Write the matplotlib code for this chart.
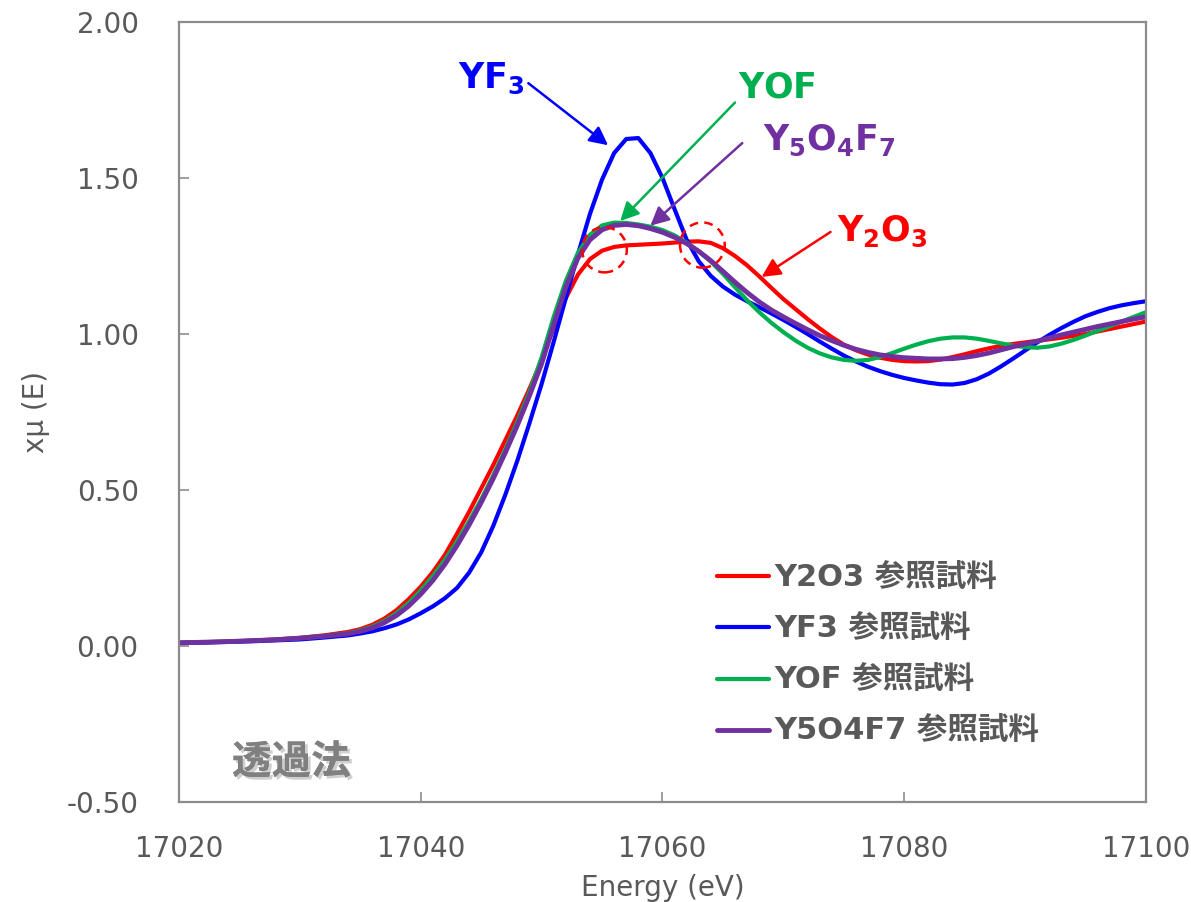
import numpy as np
import matplotlib
matplotlib.use("Agg")
import matplotlib.pyplot as plt
from matplotlib.patches import Ellipse
import matplotlib.patheffects as pe

# Energy grid (eV): coarse on the pre-edge baseline, 1 eV steps from 17034 on
energy = np.concatenate([np.arange(17020, 17034, 2), np.arange(17034, 17101, 1)])

y2o3 = [0.010, 0.012, 0.014, 0.017, 0.021, 0.026, 0.034,
        0.045, 0.054, 0.068, 0.088, 0.115, 0.150, 0.190, 0.237, 0.292, 0.360,
        0.430, 0.505, 0.580, 0.660, 0.740, 0.825, 0.915, 1.020, 1.115, 1.190,
        1.240, 1.267, 1.279, 1.284, 1.286, 1.288, 1.290, 1.293, 1.296, 1.297,
        1.292, 1.275, 1.250, 1.220, 1.185, 1.148, 1.112, 1.080, 1.048, 1.018,
        0.990, 0.966, 0.948, 0.934, 0.924, 0.917, 0.913, 0.912, 0.913, 0.918,
        0.926, 0.935, 0.945, 0.954, 0.962, 0.968, 0.973, 0.978, 0.983, 0.988,
        0.994, 1.000, 1.008, 1.016, 1.024, 1.032, 1.040]

yf3 = [0.010, 0.011, 0.013, 0.015, 0.018, 0.021, 0.027,
       0.034, 0.040, 0.047, 0.057, 0.069, 0.085, 0.105, 0.127, 0.153, 0.186,
       0.235, 0.300, 0.385, 0.485, 0.595, 0.715, 0.840, 0.975, 1.115, 1.255,
       1.385, 1.495, 1.580, 1.625, 1.628, 1.580, 1.500, 1.400, 1.302, 1.233,
       1.186, 1.152, 1.126, 1.105, 1.086, 1.066, 1.045, 1.023, 1.000, 0.976,
       0.953, 0.931, 0.912, 0.895, 0.881, 0.869, 0.859, 0.851, 0.844, 0.839,
       0.838, 0.843, 0.855, 0.873, 0.896, 0.921, 0.947, 0.973, 0.997, 1.019,
       1.039, 1.057, 1.071, 1.083, 1.092, 1.099, 1.105]

yof = [0.010, 0.012, 0.014, 0.017, 0.020, 0.025, 0.032,
       0.041, 0.050, 0.062, 0.080, 0.105, 0.138, 0.178, 0.224, 0.276, 0.335,
       0.400, 0.470, 0.547, 0.630, 0.720, 0.815, 0.925, 1.055, 1.170, 1.260,
       1.318, 1.348, 1.357, 1.356, 1.351, 1.344, 1.333, 1.316, 1.293, 1.265,
       1.232, 1.193, 1.150, 1.108, 1.070, 1.036, 1.006, 0.979, 0.956, 0.938,
       0.925, 0.917, 0.914, 0.917, 0.926, 0.939, 0.953, 0.966, 0.977, 0.985,
       0.989, 0.989, 0.985, 0.978, 0.970, 0.963, 0.958, 0.956, 0.960, 0.969,
       0.981, 0.995, 1.010, 1.025, 1.040, 1.055, 1.070]

y5o4f7 = [0.010, 0.012, 0.014, 0.017, 0.020, 0.025, 0.031,
          0.039, 0.047, 0.058, 0.075, 0.098, 0.128, 0.166, 0.210, 0.262, 0.322,
          0.388, 0.460, 0.537, 0.620, 0.708, 0.803, 0.905, 1.030, 1.150, 1.243,
          1.302, 1.334, 1.348, 1.351, 1.347, 1.338, 1.326, 1.310, 1.290, 1.265,
          1.235, 1.201, 1.166, 1.133, 1.103, 1.077, 1.055, 1.034, 1.014, 0.995,
          0.979, 0.964, 0.951, 0.941, 0.933, 0.928, 0.924, 0.922, 0.920, 0.920,
          0.921, 0.925, 0.931, 0.939, 0.949, 0.959, 0.968, 0.977, 0.987, 0.997,
          1.006, 1.015, 1.024, 1.032, 1.040, 1.048, 1.055]

series_names = ["Y2O3 参照試料", "YF3 参照試料", "YOF 参照試料", "Y5O4F7 参照試料"]
series_values = [y2o3, yf3, yof, y5o4f7]
series_colors = ["#FF0000", "#0000FF", "#00B050", "#7030A0"]
series_widths = [3.0, 3.0, 3.0, 3.5]

x_ticks = [17020, 17040, 17060, 17080, 17100]
y_ticks = [-0.50, 0.00, 0.50, 1.00, 1.50, 2.00]

# Formula labels pointing at each spectrum: (text, text position, arrow tail, arrow tip, colour)
callouts = [
    (r"$\mathbf{YF_3}$", (17045.8, 1.82), (17048.9, 1.804), (17055.5, 1.605), "#0000FF"),
    (r"$\mathbf{YOF}$", (17069.5, 1.79), (17066.0, 1.742), (17056.5, 1.362), "#00B050"),
    (r"$\mathbf{Y_5O_4F_7}$", (17073.8, 1.62), (17066.6, 1.612), (17059.0, 1.347), "#7030A0"),
    (r"$\mathbf{Y_2O_3}$", (17078.2, 1.33), (17073.9, 1.327), (17068.2, 1.183), "#FF0000"),
]

# Regions of interest on the Y2O3 spectrum
roi_centers = [(17055.2, 1.27), (17063.3, 1.285)]

TEXT = "#595959"
FRAME = "#8C8C8C"
JP = ["DejaVu Sans", "Noto Sans CJK JP"]

fig = plt.figure(figsize=(11.91, 9.02), dpi=100)
ax = fig.add_axes([0.1503, 0.1109, 0.8119, 0.8647])

for vals, name, col, lw in zip(series_values, series_names, series_colors, series_widths):
    ax.plot(energy, vals, color=col, lw=lw, label=name,
            solid_capstyle="round", solid_joinstyle="round")

ax.set_xlim(17020, 17100)
ax.set_ylim(-0.5, 2.0)
ax.set_xticks(x_ticks)
ax.set_xticklabels([str(t) for t in x_ticks])
ax.set_yticks(y_ticks)
ax.set_yticklabels([f"{t:.2f}" for t in y_ticks])

ax.tick_params(axis="both", direction="in", length=7, width=1.2, color=FRAME,
               labelsize=20, labelcolor=TEXT)
ax.tick_params(axis="y", pad=29)
ax.tick_params(axis="x", pad=24)
for sp in ax.spines.values():
    sp.set_color(FRAME)
    sp.set_linewidth(1.6)

ax.set_xlabel("Energy (eV)", fontsize=20, color=TEXT, labelpad=8)
ax.set_ylabel("xμ (E)", fontsize=20, color=TEXT, labelpad=12)

for (c, e) in roi_centers:
    ax.add_patch(Ellipse((c, e), width=3.7, height=0.145, fill=False,
                         edgecolor="#FF0000", lw=1.8, linestyle=(0, (3.5, 2.5)), zorder=5))

for label, tpos, start, tip, col in callouts:
    ax.text(tpos[0], tpos[1], label, color=col, fontsize=25, ha="center", va="center")
    ax.annotate("", xy=tip, xytext=start,
                arrowprops=dict(arrowstyle="-|>", color=col, lw=1.8,
                                mutation_scale=28, shrinkA=0, shrinkB=0))

ax.text(17029.3, -0.375, "透過法", fontsize=28.5, fontweight="bold", color="#808080",
        family=JP, ha="center", va="center",
        path_effects=[pe.withSimplePatchShadow(offset=(2, -2), shadow_rgbFace="#A0A0A0",
                                               alpha=0.5), pe.Normal()])

leg = ax.legend(loc="upper left", bbox_to_anchor=(0.556, 0.305), frameon=False,
                prop=dict(family=JP, weight="bold", size=22), labelcolor=TEXT,
                handlelength=1.7, handletextpad=0.2, labelspacing=0.72,
                borderpad=0, borderaxespad=0)

fig.savefig("out.png", dpi=100)
